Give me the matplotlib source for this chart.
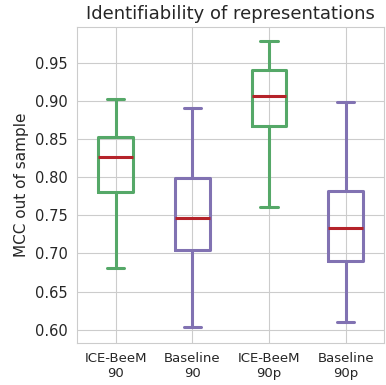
import matplotlib
matplotlib.use('Agg')
from matplotlib import pyplot as plt
import seaborn as sns

sns.set_style('whitegrid')

labels = ['ICE-BeeM\n90', 'Baseline\n90', 'ICE-BeeM\n90p', 'Baseline\n90p']
# whislo, q1, median, q3, whishi per box
whislo = [0.681, 0.603, 0.761, 0.610]
q1 = [0.780, 0.705, 0.867, 0.690]
med = [0.826, 0.747, 0.907, 0.734]
q3 = [0.853, 0.799, 0.940, 0.782]
whishi = [0.903, 0.891, 0.978, 0.898]
colors = ['#55a868', '#8172b2', '#55a868', '#8172b2']

stats = []
for i in range(len(labels)):
    stats.append({'label': labels[i], 'whislo': whislo[i], 'q1': q1[i], 'med': med[i],
                  'q3': q3[i], 'whishi': whishi[i], 'fliers': []})

fig, ax = plt.subplots(figsize=(3.86, 3.85), dpi=100)
bp = ax.bxp(stats, showfliers=False, widths=0.45,
            medianprops=dict(color='#b5232a', linewidth=2.2))
for i, c in enumerate(colors):
    bp['boxes'][i].set(color=c, linewidth=2.2)
    for art in bp['whiskers'][2 * i:2 * i + 2] + bp['caps'][2 * i:2 * i + 2]:
        art.set(color=c, linewidth=2.2)

ax.set_ylim(0.583, 0.997)
ax.set_xlim(0.5, 4.5)
ax.set_yticks([0.60, 0.65, 0.70, 0.75, 0.80, 0.85, 0.90, 0.95])
ax.set_title('Identifiability of representations', fontsize=13)
ax.set_ylabel('MCC out of sample', fontsize=11)
ax.tick_params(labelsize=10.5)
ax.tick_params(axis='x', labelsize=9.5)
fig.subplots_adjust(left=0.2, right=0.995, top=0.93, bottom=0.11)
fig.savefig('out.png', dpi=100)
